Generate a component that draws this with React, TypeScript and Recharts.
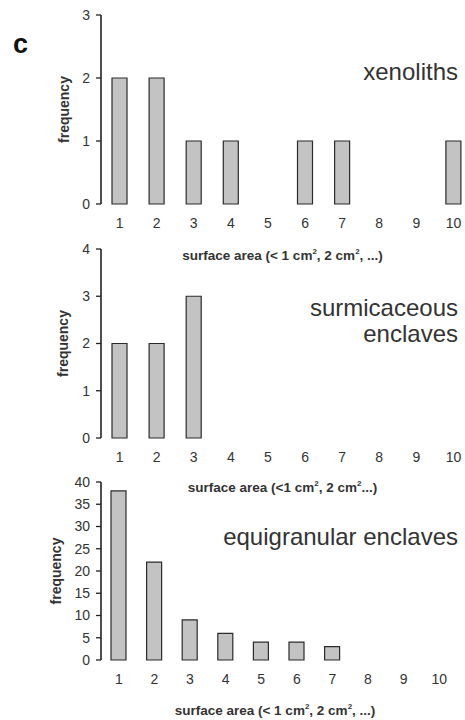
import React from 'react';
import { BarChart, Bar, XAxis, YAxis } from 'recharts';

const categories = ['1', '2', '3', '4', '5', '6', '7', '8', '9', '10'];
const xenoliths = [2, 2, 1, 1, 0, 1, 1, 0, 0, 1];
const surmicaceous = [2, 2, 3, 0, 0, 0, 0, 0, 0, 0];
const equigranular = [38, 22, 9, 6, 4, 4, 3, 0, 0, 0];
const ticks1 = [0, 1, 2, 3];
const ticks2 = [0, 1, 2, 3, 4];
const ticks3 = [0, 5, 10, 15, 20, 25, 30, 35, 40];
const edgeTicks = [0, 1, 2, 3, 4, 5, 6, 7, 8, 9, 10];

const FONT = '"Liberation Sans", Arial, Helvetica, sans-serif';
const AXIS = '#222';
const TEXT = '#333';

const build = (vals: number[]) => categories.map((c, i) => ({ cat: c, v: vals[i] }));

type PanelProps = {
  top: number;
  width: number;
  height: number;
  marginTop: number;
  xAxisHeight: number;
  values: number[];
  yTicks: number[];
  freqX: number;
  titleDy: number;
  xTitle: React.ReactNode;
};

const Panel = ({ top, width, height, marginTop, xAxisHeight, values, yTicks, freqX, titleDy, xTitle }: PanelProps) => {
  const data = build(values);
  const maxY = yTicks[yTicks.length - 1];
  return (
    <div style={{ position: 'absolute', left: 0, top, width, height }}>
      <BarChart
        width={width}
        height={height}
        data={data}
        margin={{ top: marginTop, right: 0, bottom: 0, left: 0 }}
        barSize={15}
      >
        <XAxis
          xAxisId="edges"
          type="number"
          domain={[0, 10]}
          ticks={edgeTicks}
          allowDataOverflow
          height={0}
          tick={false}
          tickSize={5}
          tickLine={{ stroke: AXIS, strokeWidth: 1.3 }}
          axisLine={{ stroke: AXIS, strokeWidth: 1.6 }}
        />
        <XAxis
          xAxisId="cats"
          dataKey="cat"
          height={xAxisHeight}
          axisLine={false}
          tickLine={false}
          tickSize={0}
          tickMargin={14}
          interval={0}
          tick={{ fill: TEXT, fontSize: 14, fontFamily: FONT }}
          label={{
            content: ({ viewBox }: any) => (
              <text
                x={viewBox.x + viewBox.width / 2 - 4}
                y={viewBox.y + titleDy}
                dy="0.35em"
                textAnchor="middle"
                fontFamily={FONT}
                fontSize={13.5}
                fontWeight="bold"
                fill={TEXT}
              >
                {xTitle}
              </text>
            ),
          }}
        />
        <YAxis
          width={101}
          domain={[0, maxY]}
          ticks={yTicks}
          interval={0}
          tickSize={5}
          tickMargin={6}
          tick={{ fill: TEXT, fontSize: 14, fontFamily: FONT }}
          tickLine={{ stroke: AXIS, strokeWidth: 1.3 }}
          axisLine={{ stroke: AXIS, strokeWidth: 1.6 }}
          label={{
            content: ({ viewBox }: any) => {
              const cy = viewBox.y + viewBox.height / 2;
              return (
                <text
                  x={freqX}
                  y={cy}
                  transform={`rotate(-90 ${freqX} ${cy})`}
                  textAnchor="middle"
                  dy="0.35em"
                  fontFamily={FONT}
                  fontSize={14}
                  fontWeight="bold"
                  fill={TEXT}
                >
                  frequency
                </text>
              );
            },
          }}
        />
        <Bar
          xAxisId="cats"
          dataKey="v"
          fill="#c3c3c3"
          stroke="#2b2b2b"
          strokeWidth={1.2}
          isAnimationActive={false}
        />
      </BarChart>
    </div>
  );
};

const title1 = (
  <>
    surface area (&lt; 1 cm<tspan dy="-6" fontSize={8}>2</tspan>
    <tspan dy="6">, 2 cm</tspan>
    <tspan dy="-6" fontSize={8}>2</tspan>
    <tspan dy="6">, ...)</tspan>
  </>
);

const title2 = (
  <>
    surface area (&lt;1 cm<tspan dy="-6" fontSize={8}>2</tspan>
    <tspan dy="6">, 2 cm</tspan>
    <tspan dy="-6" fontSize={8}>2</tspan>
    <tspan dy="6">...)</tspan>
  </>
);

export default function App() {
  return (
    <div
      style={{
        position: 'absolute',
        left: 0,
        top: 0,
        width: 465,
        height: 720,
        overflow: 'hidden',
        background: '#fff',
      }}
    >
      <Panel
        top={0}
        width={472}
        height={270}
        marginTop={15}
        xAxisHeight={66}
        values={xenoliths}
        yTicks={ticks1}
        freqX={64}
        titleDy={51}
        xTitle={title1}
      />
      <Panel
        top={230}
        width={472}
        height={270}
        marginTop={19}
        xAxisHeight={62}
        values={surmicaceous}
        yTicks={ticks2}
        freqX={63}
        titleDy={49}
        xTitle={title2}
      />
      <Panel
        top={470}
        width={457}
        height={250}
        marginTop={12}
        xAxisHeight={60}
        values={equigranular}
        yTicks={ticks3}
        freqX={56}
        titleDy={50}
        xTitle={title1}
      />
      <svg
        width={465}
        height={720}
        style={{ position: 'absolute', left: 0, top: 0, pointerEvents: 'none' }}
      >
        <text x={13} y={53} fontFamily={FONT} fontSize={27} fontWeight="bold" fill="#111">
          c
        </text>
        <text x={458} y={80} textAnchor="end" fontFamily={FONT} fontSize={24} fill={TEXT}>
          xenoliths
        </text>
        <text x={458} y={316} textAnchor="end" fontFamily={FONT} fontSize={24} fill={TEXT}>
          surmicaceous
        </text>
        <text x={458} y={342} textAnchor="end" fontFamily={FONT} fontSize={24} fill={TEXT}>
          enclaves
        </text>
        <text x={458} y={545} textAnchor="end" fontFamily={FONT} fontSize={24} fill={TEXT}>
          equigranular enclaves
        </text>
      </svg>
    </div>
  );
}
